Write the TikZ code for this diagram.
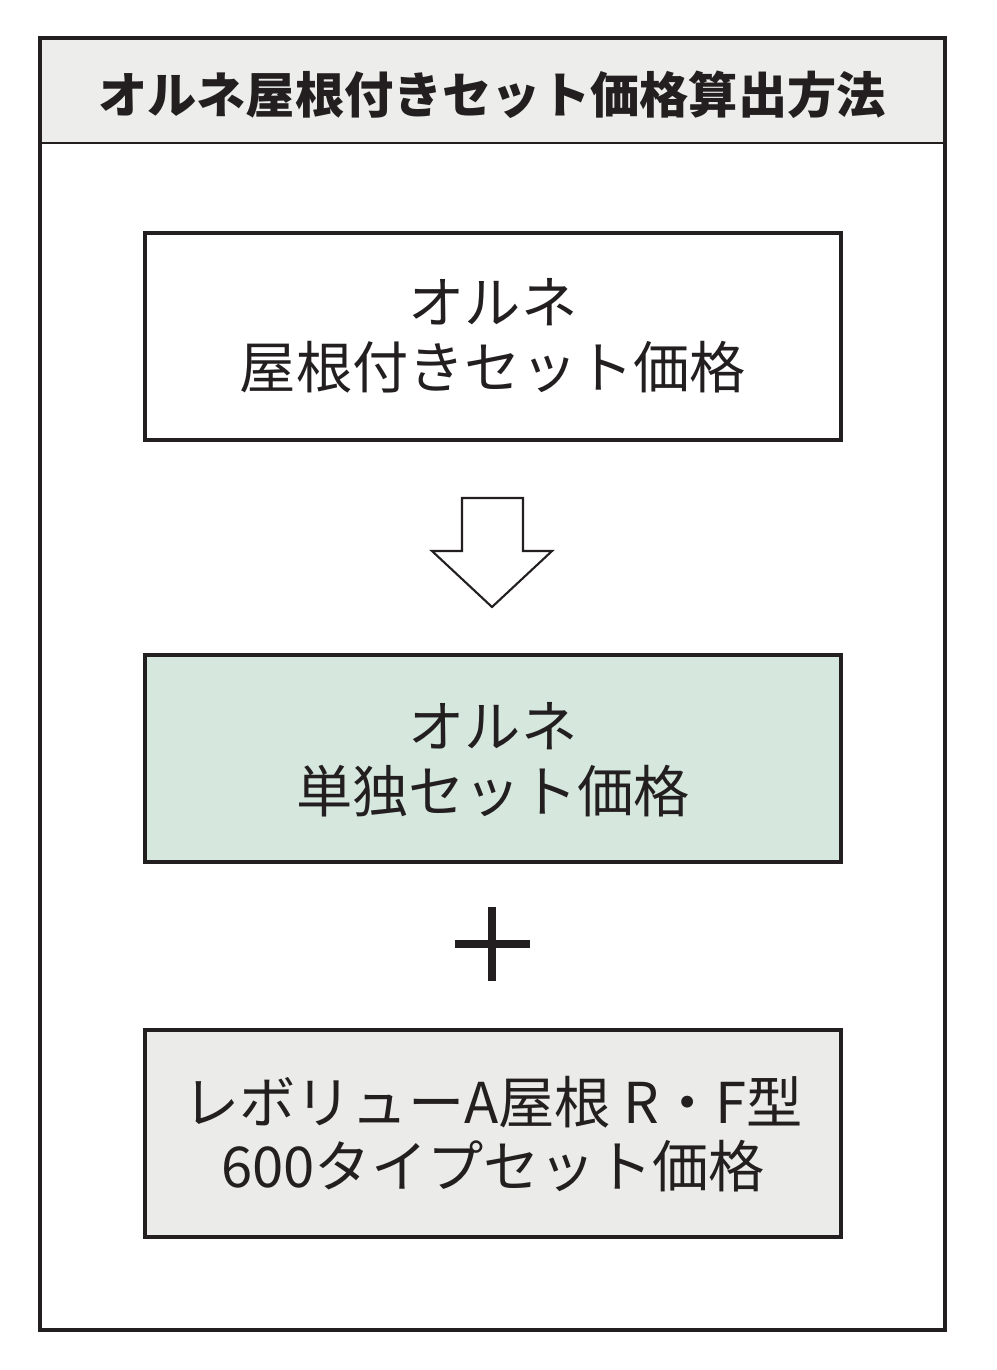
\documentclass[tikz,border=0pt]{standalone}
\usepackage{fontspec}
\setmainfont{Noto Sans CJK JP}
\definecolor{hdr}{HTML}{EDEEEC}
\definecolor{grn}{HTML}{D6E8DD}
\definecolor{gry}{HTML}{EBECE9}
\definecolor{ink}{HTML}{231F20}
\begin{document}
\begin{tikzpicture}[x=0.025cm,y=-0.025cm,
  txt/.style={font=\fontsize{40}{46}\selectfont,text=ink,align=center}]
\useasboundingbox (0,0) rectangle (996,1370);
\fill[hdr] (40,38) rectangle (945,143);
\draw[ink,line width=1pt] (40,143) -- (945,143);
\draw[ink,line width=3.2pt] (40,38) rectangle (945,1330);
\node[font=\fontsize{35}{40}\selectfont\bfseries,text=ink] (title) at (492,95) {オルネ屋根付きセット価格算出方法};
\draw[ink,line width=2.2pt] (145,233) rectangle (841,440);
\node[txt] (b1) at (493,336) {オルネ\\屋根付きセット価格};
\draw[ink,line width=1.5pt,fill=white] (462,498) -- (523,498) -- (523,551) -- (552,551) -- (492,607) -- (432,551) -- (462,551) -- cycle;
\draw[ink,line width=2.2pt,fill=grn] (145,655) rectangle (841,862);
\node[txt] (b2) at (493,760) {オルネ\\単独セット価格};
\node (plus) at (492,944) {};
\draw[ink,line width=6pt] (455,944) -- (530,944) (492,907) -- (492,981);
\draw[ink,line width=2.2pt,fill=gry] (145,1030) rectangle (841,1237);
\node[txt] (b3) at (493,1134) {レボリューA屋根 R・F型\\600タイプセット価格};
\end{tikzpicture}
\end{document}
